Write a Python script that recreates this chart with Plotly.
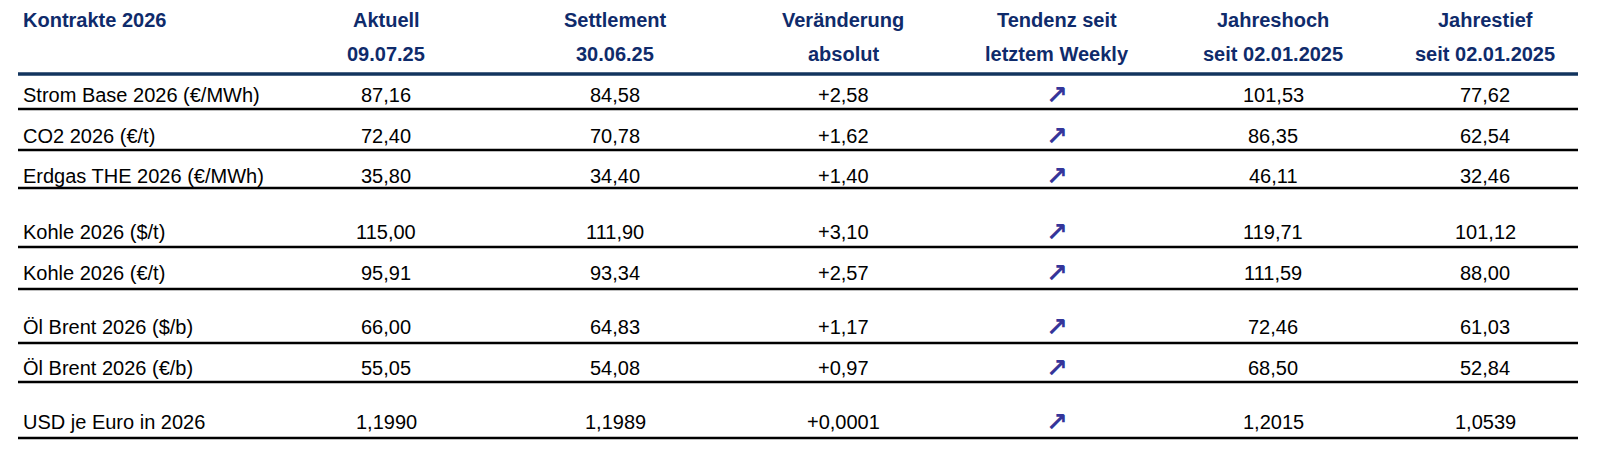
import plotly.graph_objects as go

# table content
header_top = ["Kontrakte 2026", "Aktuell", "Settlement", "Veränderung", "Tendenz seit", "Jahreshoch", "Jahrestief"]
header_bottom = ["", "09.07.25", "30.06.25", "absolut", "letztem Weekly", "seit 02.01.2025", "seit 02.01.2025"]

contracts = ["Strom Base 2026 (€/MWh)", "CO2 2026 (€/t)", "Erdgas THE 2026 (€/MWh)",
             "Kohle 2026 ($/t)", "Kohle 2026 (€/t)",
             "Öl Brent 2026 ($/b)", "Öl Brent 2026 (€/b)",
             "USD je Euro in 2026"]
aktuell = ["87,16", "72,40", "35,80", "115,00", "95,91", "66,00", "55,05", "1,1990"]
settlement = ["84,58", "70,78", "34,40", "111,90", "93,34", "64,83", "54,08", "1,1989"]
veraenderung = ["+2,58", "+1,62", "+1,40", "+3,10", "+2,57", "+1,17", "+0,97", "+0,0001"]
tendenz = ["↗"] * 8
jahreshoch = ["101,53", "86,35", "46,11", "119,71", "111,59", "72,46", "68,50", "1,2015"]
jahrestief = ["77,62", "62,54", "32,46", "101,12", "88,00", "61,03", "52,84", "1,0539"]

# layout helpers (pixel coords)
col_x = [13, 378, 607, 835, 1049, 1265, 1477]
row_y = [87, 128, 168, 224, 265, 319, 360, 414]
line_y = [101, 142, 180, 239, 281, 335, 374, 430]
NAVY = "#0f2b6b"
ARROW = "#35359a"
FONT = "Liberation Sans, Arial, sans-serif"
SIZE = 20

fig = go.Figure()
fig.add_trace(go.Scatter(x=[0, 1612], y=[0, 451], mode="markers",
                         marker=dict(opacity=0), hoverinfo="skip", showlegend=False))

ann = []
for i, (t, b) in enumerate(zip(header_top, header_bottom)):
    anchor = "left" if i == 0 else "center"
    ann.append(dict(x=col_x[i], y=12, text=f"<b>{t}</b>", xanchor=anchor,
                    font=dict(size=SIZE, color=NAVY, family=FONT)))
    if b:
        ann.append(dict(x=col_x[i], y=46, text=f"<b>{b}</b>", xanchor=anchor,
                        font=dict(size=SIZE, color=NAVY, family=FONT)))

columns = [contracts, aktuell, settlement, veraenderung, tendenz, jahreshoch, jahrestief]
for c, vals in enumerate(columns):
    for r, v in enumerate(vals):
        if c == 4:
            ann.append(dict(x=col_x[c], y=row_y[r], text=f"<b>{v}</b>", xanchor="center",
                            font=dict(size=26, color=ARROW, family="DejaVu Sans")))
        else:
            ann.append(dict(x=col_x[c], y=row_y[r], text=v,
                            xanchor="left" if c == 0 else "center",
                            font=dict(size=SIZE, color="black", family=FONT)))
for a in ann:
    a.update(xref="x", yref="y", showarrow=False, yanchor="middle")

shapes = [dict(type="line", xref="x", yref="y", x0=10, x1=1570, y0=66, y1=66,
               line=dict(color="#12345e", width=3.5))]
for y in line_y:
    shapes.append(dict(type="line", xref="x", yref="y", x0=10, x1=1570, y0=y, y1=y,
                       line=dict(color="black", width=2.5)))

fig.update_layout(
    width=1612, height=451,
    margin=dict(l=0, r=0, t=0, b=0),
    paper_bgcolor="white", plot_bgcolor="white",
    xaxis=dict(range=[0, 1612], visible=False, fixedrange=True),
    yaxis=dict(range=[451, 0], visible=False, fixedrange=True),
    annotations=ann, shapes=shapes,
)

fig.write_html("out.html", config={"displayModeBar": False})
